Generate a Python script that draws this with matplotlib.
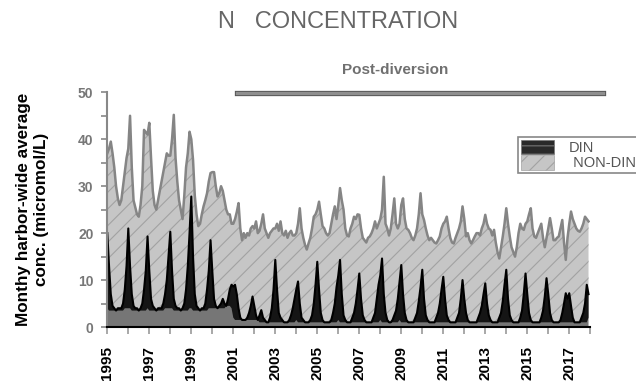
import matplotlib.pyplot as plt
import numpy as np
import pandas as pd
from matplotlib.patches import Patch

plt.rcParams['font.family'] = ['Liberation Sans', 'DejaVu Sans']
plt.rcParams['hatch.linewidth'] = 0.8
plt.rcParams['hatch.color'] = '#a2a2a2'

# monthly harbor-wide averages, Jan 1995 .. Dec 2017 (micromol/L), one year per row
total_n = np.array([
    37, 38, 39.5, 37, 34, 30, 27.5, 26, 27, 30, 33, 36,          # 1995
    38, 45, 34, 27, 25.5, 24, 23.5, 26, 30, 42, 41.5, 41,        # 1996
    43.5, 36, 29, 26, 25, 27, 29, 31, 33, 35, 37, 36.5,          # 1997
    36.5, 40, 45.2, 36, 31, 27, 25, 23, 28, 34, 37, 41.6,        # 1998
    40, 35.6, 28, 24, 21.5, 22, 24, 25.7, 27, 28.5, 31, 32.8,    # 1999
    33, 33, 30, 27.8, 28.5, 30, 29, 27, 25, 24, 24, 22,          # 2000
    22, 23, 24.5, 26.4, 21, 18.5, 20, 19, 20, 19.5, 21, 21.5,    # 2001
    21, 22.5, 20, 20.5, 22, 24, 21, 20, 19, 20, 20.5, 21,        # 2002
    21, 22, 20.5, 22.5, 20, 19.5, 20.5, 19, 20, 20.5, 19.5, 19.5,  # 2003
    20, 22, 25.3, 21, 19, 17.5, 16.5, 17.8, 19, 21, 23.5, 24,    # 2004
    25, 26.7, 24, 21.5, 21, 20, 19.5, 20, 22, 24, 25.7, 23,      # 2005
    26, 29.6, 27, 25, 21, 19.5, 19.3, 21, 22, 23.5, 23, 24,      # 2006
    23.9, 21, 19, 18.5, 18, 19, 19.3, 20, 21, 22.5, 21, 22,      # 2007
    23, 25, 32, 22, 21, 19.5, 21, 24, 27.4, 22, 21, 22,          # 2008
    26, 27.4, 23, 21, 20.7, 20, 19, 18.5, 19.5, 21, 24, 28.5,    # 2009
    24, 22.8, 21, 19.5, 18.5, 19, 18.5, 18, 17.8, 18.5, 19.3, 21,  # 2010
    22, 22.5, 23.5, 21, 19, 18, 17.8, 19, 20, 21, 22.5, 25.7,    # 2011
    23, 19.3, 20, 18.5, 17.8, 18.5, 19.3, 20, 20, 19.5, 21, 22,  # 2012
    23.9, 22, 21, 20.7, 19.5, 20.7, 18, 16, 14.6, 17, 19.3, 22,  # 2013
    25.3, 22, 19.3, 17, 16, 15, 17, 20, 22, 21, 20.7, 22,        # 2014
    22.5, 24, 25.3, 21, 19.3, 19, 20, 21, 22, 19, 17, 19,        # 2015
    21, 23.2, 21, 18.5, 18.5, 19, 19.3, 21, 22.8, 18, 14.3, 19,  # 2016
    22, 24.6, 23, 22, 21, 20.5, 20.3, 21, 22, 23.5, 23, 22.5,    # 2017
])

din = np.array([
    20, 13, 7, 4.5, 4, 3.5, 4, 4, 4, 5, 8, 13,          # 1995
    21, 13, 7, 4.5, 4, 4, 3.5, 4, 5, 8, 12, 19.3,       # 1996
    12, 6, 4.5, 4, 3.5, 4, 4, 4, 5, 7, 10, 15,          # 1997
    20.3, 12, 6, 4.5, 4, 4, 3.5, 4, 5, 8, 13, 20,       # 1998
    27.8, 15, 7, 4.5, 4, 3.5, 4, 4, 5, 8, 12, 18.5,     # 1999
    12, 6, 4.5, 4, 4.5, 5, 6, 5, 4.5, 6, 8, 9,          # 2000
    8.6, 9, 7, 4, 2, 1.5, 1.5, 1.5, 2, 3, 4.5, 6.5,     # 2001
    4.5, 2.5, 1.5, 2.5, 3.6, 2, 1.5, 1, 1, 2, 4, 8,     # 2002
    14.3, 8, 3, 2, 1.5, 1, 1, 1, 1.5, 2.5, 4, 6,        # 2003
    8, 9.7, 5, 2, 1.5, 1, 1, 1, 1.5, 2.5, 5, 9,         # 2004
    13.9, 8, 3, 1.5, 1, 1, 1, 1, 1.5, 3, 5, 8.5,        # 2005
    11, 14.3, 7, 2.5, 1.5, 1, 1, 1, 2, 3, 5, 8,         # 2006
    11.4, 6, 2.5, 1.5, 1, 1, 1, 1, 2, 3, 6, 9,          # 2007
    11, 14.6, 7, 3, 1.5, 1, 1, 1.5, 2.5, 3.5, 6, 9.5,   # 2008
    13.2, 7, 3, 1.5, 1, 1, 1, 1, 2, 3, 5.5, 8.5,        # 2009
    12.2, 6, 2.5, 1.5, 1, 1, 1, 1, 2, 3, 5, 8,          # 2010
    10.7, 6, 2.5, 1.5, 1, 1, 1, 1, 2, 3, 6, 10,         # 2011
    6, 3, 1.5, 1, 1, 1, 1, 1, 2, 3, 4.5, 7,             # 2012
    9.3, 5, 2.5, 1.5, 1, 1, 1, 1, 2, 3, 5.5, 9,         # 2013
    12.2, 6, 2.5, 1.5, 1, 1, 1, 1, 2, 3.5, 7, 11.4,     # 2014
    7, 3, 1.5, 1, 1, 1, 1, 1, 2, 3.5, 6.5, 10.4,        # 2015
    7, 3, 1.5, 1, 1, 1, 1, 1.5, 3, 5, 7.2, 6,           # 2016
    7.2, 4.5, 2, 1, 1, 1, 1, 2, 3, 5, 9, 7,             # 2017
])

tick_years = np.arange(1995, 2019)
label_years = [1995, 1997, 1999, 2001, 2003, 2005, 2007, 2009, 2011, 2013, 2015, 2017]
diversion_span = [2001.2, 2018.6]

months = 1995 + np.arange(len(total_n)) / 12.0
# low background level of DIN, the seasonal peaks stand out dark above it
din_base = pd.Series(din).rolling(9, center=True, min_periods=1).min().values

fig = plt.figure(figsize=(6.36, 3.81), dpi=100)
ax = fig.add_axes([0.1687, 0.1417, 0.7594, 0.6160])

# NON-DIN: stacked on top of DIN
ax.fill_between(months, din, total_n, facecolor='#c6c6c6', edgecolor='none', lw=0)
ax.fill_between(months, din, total_n, facecolor='none', edgecolor='#a2a2a2', lw=0, hatch='//')
ax.plot(months, total_n, color='#858585', lw=1.8)

# DIN
ax.fill_between(months, 0, din, facecolor='#767676', edgecolor='none', lw=0)
ax.fill_between(months, din_base, din, facecolor='#151515', edgecolor='none', lw=0)
ax.plot(months, din, color='black', lw=1.5)

# post-diversion bar
ax.plot(diversion_span, [49.8, 49.8], color='#555555', lw=3.8, clip_on=False)
ax.plot(diversion_span, [49.8, 49.8], color='#8f8f8f', lw=2.4, clip_on=False)
ax.text(2008.7, 54.8, 'Post-diversion', ha='center', va='center',
        fontsize=11, fontweight='bold', color='#707070')

fig.text(338 / 636, 1 - 22 / 381, 'N   CONCENTRATION', ha='center', va='center',
         fontsize=17, color='#666666')

ax.set_xlim(1995, 2018)
ax.set_ylim(0, 50)
ax.set_xticks(tick_years)
ax.set_xticklabels([str(y) if y in label_years else '' for y in tick_years],
                   rotation=90, fontsize=11, fontweight='bold')
ax.set_yticks(np.arange(0, 51, 10))
ax.set_yticks(np.arange(5, 50, 10), minor=True)
ax.tick_params(axis='y', which='both', length=4, width=1.2, color='#888888',
               labelcolor='#777777', labelsize=10, pad=6)
ax.tick_params(axis='x', length=5, width=1.2, color='#999999', pad=9)
for lbl in ax.get_yticklabels():
    lbl.set_fontweight('bold')

ax.spines['top'].set_visible(False)
ax.spines['right'].set_visible(False)
ax.spines['left'].set_color('#888888')
ax.spines['left'].set_linewidth(1.5)
ax.spines['bottom'].set_color('black')
ax.spines['bottom'].set_linewidth(1.5)

ax.set_ylabel('Monthy harbor-wide average\nconc. (micromol/L)', fontsize=12.3,
              fontweight='bold', linespacing=1.2)
ax.yaxis.set_label_coords(-0.121, 0.5)

handles = [Patch(facecolor='#2a2a2a', edgecolor='#777777', hatch='--', lw=0.5, label='DIN'),
           Patch(facecolor='#c6c6c6', edgecolor='#a2a2a2', hatch='//', lw=0.5, label=' NON-DIN')]
leg = fig.legend(handles=handles, loc='upper left', bbox_to_anchor=(518 / 636, 1 - 137 / 381),
                 frameon=True, fancybox=False, edgecolor='#888888', framealpha=1,
                 fontsize=10.5, handlelength=2.3, handleheight=1.15, labelspacing=0,
                 handletextpad=1.0, borderpad=0.2, borderaxespad=0)
for t in leg.get_texts():
    t.set_color('#555555')
leg.get_frame().set_linewidth(1.2)

fig.savefig('out.png', dpi=100)
